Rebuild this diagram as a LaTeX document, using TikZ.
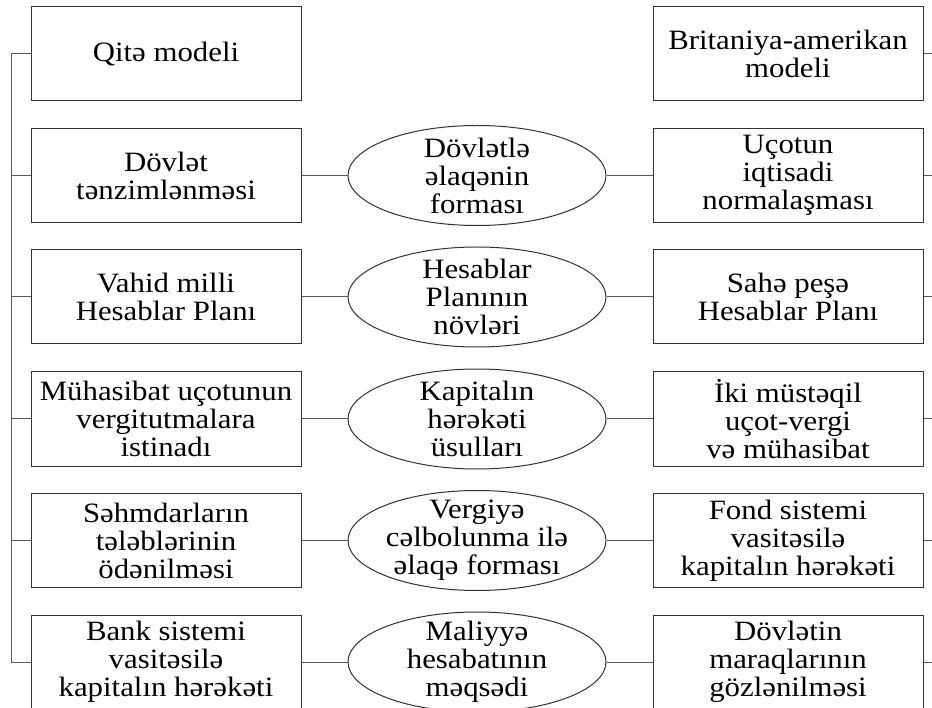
\documentclass[tikz,border=0pt]{standalone}
\usepackage{fontspec}
\setmainfont{Liberation Serif}[FakeStretch=1.1]
\usetikzlibrary{shapes.geometric}

\begin{document}
\begin{tikzpicture}[
            x=1pt, y=-1pt,
            line width=1pt,
            every node/.style={font=\fontsize{28}{28}\selectfont, align=center},
            box/.style={draw=black!80, rectangle, inner sep=0pt, minimum width=270pt, minimum height=94pt},
            oval/.style={draw=black!80, ellipse, inner sep=0pt, minimum width=258pt, minimum height=100pt},
            link/.style={draw=black!65},
            ]
            \useasboundingbox (0,0) rectangle (932,708);
            % left column
            \node[box] (l1) at (166, 54) {Qitə modeli};
            \node[box] (l2) at (166, 175.5) {Dövlət\\tənzimlənməsi};
            \node[box] (l3) at (166, 297) {Vahid milli\\Hesablar Planı};
            \node[box] (l4) at (166, 419) {Mühasibat uçotunun\\vergitutmalara\\istinadı};
            \node[box] (l5) at (166, 540.5) {Səhmdarların\\tələblərinin\\ödənilməsi};
            \node[box] (l6) at (166, 662) {Bank sistemi\\vasitəsilə\\kapitalın hərəkəti};
            % middle column
            \node[oval] (e2) at (477, 175.5) {};
            \node (t2) at (e2) {Dövlətlə\\əlaqənin\\forması};
            \node[oval] (e3) at (477, 297) {};
            \node (t3) at (e3) {Hesablar\\Planının\\növləri};
            \node[oval] (e4) at (477, 419) {};
            \node (t4) at (e4) {Kapitalın\\hərəkəti\\üsulları};
            \node[oval] (e5) at (477, 540.5) {};
            \node (t5) at (e5) {Vergiyə\\cəlbolunma ilə\\əlaqə forması};
            \node[oval] (e6) at (477, 662) {};
            \node (t6) at (e6) {Maliyyə\\hesabatının\\məqsədi};
            % right column
            \node[box] (r1) at (788, 54) {Britaniya-amerikan\\modeli};
            \node[box] (r2) at (788, 175.5) {Uçotun\\iqtisadi\\normalaşması};
            \node[box] (r3) at (788, 297) {Sahə peşə\\Hesablar Planı};
            \node[box] (r4) at (788, 419) {İki müstəqil\\uçot-vergi\\və mühasibat};
            \node[box] (r5) at (788, 540.5) {Fond sistemi\\vasitəsilə\\kapitalın hərəkəti};
            \node[box] (r6) at (788, 662) {Dövlətin\\maraqlarının\\gözlənilməsi};

            \coordinate (top) at (11, 54);
            \coordinate (bot) at (11, 662);
            \coordinate (edge) at (932, 0);

            \draw[link] (l1.west) -- (top) -- (bot) -- (l6.west);
            \foreach \i in {2,...,5}
                \draw[link] (l\i.west) -- (l\i.west -| top);
            \foreach \i in {2,...,6}
                \draw[link] (l\i.east) -- (e\i.west) (e\i.east) -- (r\i.west);
            \foreach \i in {1,...,6}
                \draw[link] (r\i.east) -- (r\i.east -| edge);
        \end{tikzpicture}
\end{document}
